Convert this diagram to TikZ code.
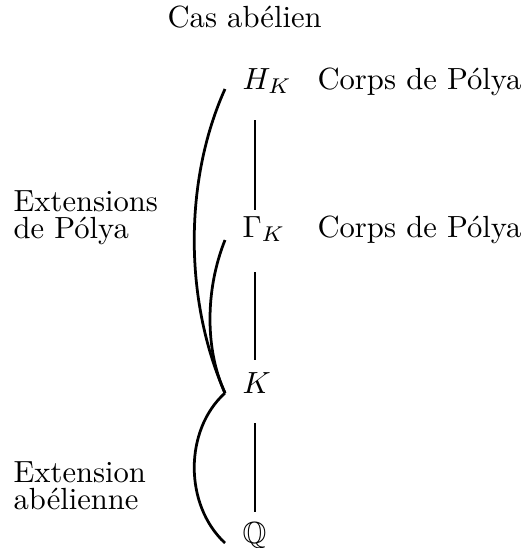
\documentclass[tikz,border=0pt]{standalone}
\usepackage{amssymb}
\usetikzlibrary{calc}
\begin{document}
\begin{tikzpicture}[x=0.3268pt,y=-0.3268pt,
  lbl/.style={anchor=base west,inner sep=0pt,font=\fontsize{10}{8.7}\selectfont,align=left},
  mth/.style={anchor=base west,inner sep=0pt},
  vline/.style={line width=0.7pt},
  brace/.style={line width=0.9pt}]
\useasboundingbox (0,0) rectangle (525,548);
\node[lbl] (cas) at (167,27) {Cas abélien};
\node[mth] (hk) at (242,89) {$H_K$};
\node[mth] (gk) at (242,237) {$\Gamma_K$};
\node[mth] (k) at (242,393) {$K$};
\node[mth] (q) at (242,543) {$\mathbb{Q}$};
\node[lbl] (cp1) at (317,89) {Corps de Pólya};
\node[lbl] (cp2) at (317,237) {Corps de Pólya};
\node[lbl] (ext1) at (13,238) {Extensions\\de Pólya};
\node[lbl] (ext2) at (13,509) {Extension\\abélienne};
\draw[vline] ($(hk.base west)+(13,31)$) -- ($(gk.base west)+(13,-27)$);
\draw[vline] ($(gk.base west)+(13,35)$) -- ($(k.base west)+(13,-33)$);
\draw[vline] ($(k.base west)+(13,30)$) -- ($(q.base west)+(13,-31)$);
\draw[brace] ($(hk.base west)+(-17,0)$) .. controls (184,180) and (184,300) .. ($(k.base west)+(-17,0)$);
\draw[brace] ($(gk.base west)+(-17,3)$) .. controls (205,290) and (205,350) .. ($(k.base west)+(-17,0)$);
\draw[brace] ($(k.base west)+(-17,0)$) .. controls (184,430) and (184,505) .. ($(q.base west)+(-17,0)$);
\end{tikzpicture}
\end{document}
